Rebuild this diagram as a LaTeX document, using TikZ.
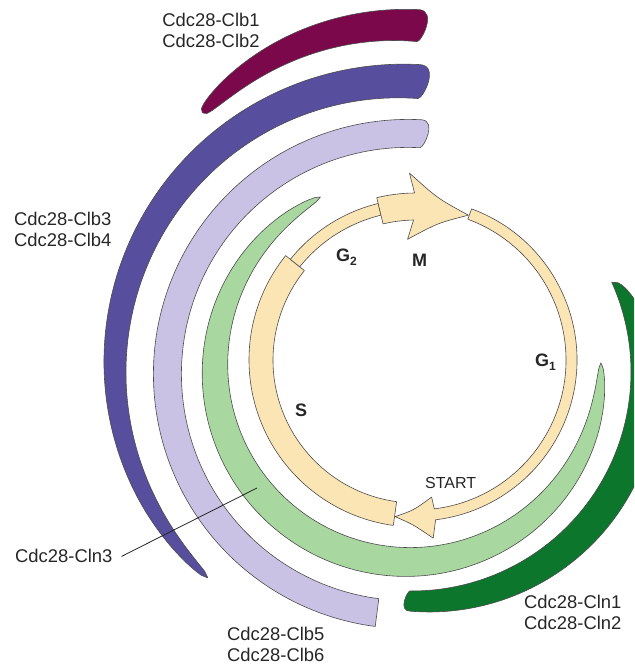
\documentclass[tikz,border=0pt]{standalone}
\usepackage{fontspec}
\setmainfont{Liberation Sans}
\usetikzlibrary{calc}

\definecolor{cyc}{RGB}{252,229,180}
\definecolor{clbA}{RGB}{122,8,74}
\definecolor{clbB}{RGB}{88,78,158}
\definecolor{clbC}{RGB}{202,194,228}
\definecolor{clnA}{RGB}{168,216,160}
\definecolor{clnB}{RGB}{12,118,44}
\definecolor{ink}{RGB}{38,38,38}

% Tapered band around centre (#2,#3), mid radius #4, from a pointed end at
% angle #5 to a blunt end at angle #6; #7 = width at the blunt end,
% #8 = taper exponent, #9 = bulge of the rounded blunt end.
\newcommand{\horn}[9]{%
  \pgfmathsetmacro\hdir{#6+90*sign(#6-(#5))}%
  \pgfmathsetmacro\hro{#4+0.5*#7}%
  \pgfmathsetmacro\hri{#4-0.5*#7}%
  \pgfmathsetmacro\hka{#9}%
  \pgfmathsetmacro\hkb{0.25*#9}%
  \draw[#1] plot[domain=#5:#6,samples=120]
      ({#2+(#4+0.5*#7*pow(max(abs((\x-(#5))/((#6)-(#5))),0.00001),#8))*cos(\x)},
       {#3+(#4+0.5*#7*pow(max(abs((\x-(#5))/((#6)-(#5))),0.00001),#8))*sin(\x)})
    .. controls ($(#2,#3)+(#6:\hro)+(\hdir:\hka)$) and ($(#2,#3)+(#6:\hri)+(\hdir:\hkb)$)
    .. ($(#2,#3)+(#6:\hri)$)
    -- plot[domain=#6:#5,samples=120]
      ({#2+(#4-0.5*#7*pow(max(abs((\x-(#5))/((#6)-(#5))),0.00001),#8))*cos(\x)},
       {#3+(#4-0.5*#7*pow(max(abs((\x-(#5))/((#6)-(#5))),0.00001),#8))*sin(\x)})
    -- cycle;%
}

\begin{document}
\begin{tikzpicture}[x=1pt,y=1pt,
  outl/.style={draw=black!70,line width=0.6pt,line join=round},
  lbl/.style={font=\fontsize{18.4}{20.5}\selectfont,text=ink,inner sep=0pt},
  phase/.style={font=\fontsize{18}{20}\selectfont\bfseries,text=ink,inner sep=0pt},
  leader/.style={draw=ink,line width=0.8pt}
]
\useasboundingbox (0,0) rectangle (634,668);
\clip (0,0) rectangle (634,668);

% ---- cyclin-CDK bands ----
% Cdc28-Clb1/2
\horn{outl,fill=clbA}{400}{377}{266}{137.9}{86.1}{32}{0.32}{18}
% Cdc28-Clb3/4
\horn{outl,fill=clbB}{401}{301}{286}{227.4}{86.4}{34}{0.4}{20}
% Cdc28-Clb5/6 (square lower end)
\horn{outl,fill=clbC}{408}{294}{240.6}{262.6}{87}{28}{0}{16}
% Cdc28-Cln3 (pointed at both ends)
\draw[outl,fill=clnA]
  plot[domain=117:361.8,samples=150]
    ({408+(193+15*pow(max(sin((\x-117)*0.73529),0.00001),0.5))*cos(\x)},
     {299+(193+15*pow(max(sin((\x-117)*0.73529),0.00001),0.5))*sin(\x)})
  -- plot[domain=361.8:117,samples=150]
    ({408+(193-15*pow(max(sin((\x-117)*0.73529),0.00001),0.5))*cos(\x)},
     {299+(193-15*pow(max(sin((\x-117)*0.73529),0.00001),0.5))*sin(\x)})
  -- cycle;
% Cdc28-Cln1/2: inner edge on a circle, widest on the right, running off the page
\coordinate (gc) at (412,296);
\draw[outl,fill=clnB]
  plot[domain=24.2:-90.5,samples=150]
    ({412+(219+67.2*sqrt(max((24.2-\x)/114.7,0))*(1-0.7*(24.2-\x)/114.7))*cos(\x)},
     {296+(219+67.2*sqrt(max((24.2-\x)/114.7,0))*(1-0.7*(24.2-\x)/114.7))*sin(\x)})
  .. controls ($(gc)+(-90.5:239.2)+(-180.5:12)$) and ($(gc)+(-90.5:219)+(-180.5:3)$)
  .. ($(gc)+(-90.5:219)$)
  arc[start angle=-90.5,end angle=24.2,radius=219] -- cycle;

% ---- cell cycle ring ----
\coordinate (C) at (416,308);
% S phase
\draw[outl,fill=cyc] ($(C)+(141.3:167)$) arc[start angle=141.3,end angle=262.2,radius=167]
  -- ($(C)+(262.2:143)$) arc[start angle=262.2,end angle=141.3,radius=143] -- cycle;
% G2 phase
\draw[outl,fill=cyc] ($(C)+(103.6:161)$) arc[start angle=103.6,end angle=141.3,radius=161]
  -- ($(C)+(141.3:149)$) arc[start angle=141.3,end angle=103.6,radius=149] -- cycle;
% G1 phase ending in the START arrowhead
\draw[outl,fill=cyc] ($(C)+(69.8:161)$) arc[start angle=69.8,end angle=-83,radius=161]
  -- ($(C)+(-84.5:179)$)
  .. controls ($(C)+(-90.9:164.7)$) .. ($(C)+(-97.6:158)$)
  .. controls ($(C)+(-91:150.4)$) .. ($(C)+(-83.5:138)$)
  -- ($(C)+(-83:150)$) arc[start angle=-83,end angle=69.8,radius=150] -- cycle;
% M phase arrow
\draw[outl,fill=cyc] ($(C)+(103.6:167)$) arc[start angle=103.6,end angle=90.5,radius=167]
  -- ($(C)+(92:187)$)
  .. controls ($(C)+(82.4:163)$) .. ($(C)+(70.1:154)$)
  .. controls ($(C)+(80.9:138.8)$) .. ($(C)+(94:121)$)
  -- ($(C)+(91:140)$) arc[start angle=91,end angle=103.6,radius=140] -- cycle;

% ---- phase labels ----
\node[phase,anchor=base west] (g2) at (336,406) {G\raisebox{-4pt}{\fontsize{12}{12}\selectfont 2}};
\node[phase,anchor=base] (m) at (419.5,401) {M};
\node[phase,anchor=base west] (g1) at (535,301) {G\raisebox{-4pt}{\fontsize{12}{12}\selectfont 1}};
\node[phase,anchor=base west] (s) at (295,251) {S};
\node[font=\fontsize{16}{18}\selectfont,text=ink,inner sep=0pt,anchor=base west] (start) at (425,179) {START};

% ---- complex labels ----
\node[lbl,anchor=north,align=center] (clb12) at (211,655) {Cdc28-Clb1\\Cdc28-Clb2};
\node[lbl,anchor=north west,align=left] (clb34) at (14,456) {Cdc28-Clb3\\Cdc28-Clb4};
\node[lbl,anchor=north west,align=left] (clb56) at (227,41) {Cdc28-Clb5\\Cdc28-Clb6};
\node[lbl,anchor=north west,align=left] (cln12) at (524,73) {Cdc28-Cln1\\Cdc28-Cln2};
\node[lbl,anchor=base west,inner xsep=9pt] (cln3) at (6,105) {Cdc28-Cln3};
\coordinate (cln3pt) at (257,180);
\draw[leader] (cln3.east) -- (cln3pt);
\end{tikzpicture}
\end{document}
